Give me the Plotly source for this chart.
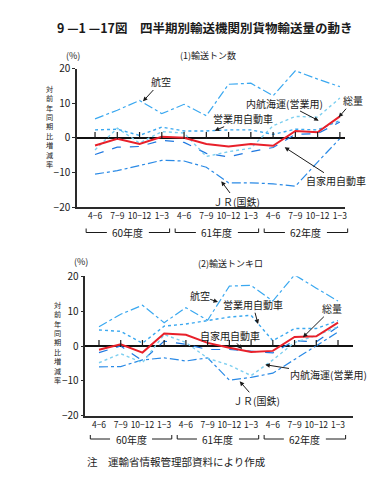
import plotly.graph_objects as go

W, H = 382, 477

# ---------------- data ----------------
quarters = ["4−6", "7−9", "10−12", "1−3"] * 3
fiscal_years = ["60年度", "61年度", "62年度"]
series_names = ["総量", "航空", "営業用自動車", "内航海運(営業用)", "自家用自動車", "ＪＲ(国鉄)"]

# (1) 輸送トン数  (対前年同期比増減率, %)
ton_total = [-2.2, -0.3, -1.8, 0.3, 0.0, -1.8, -2.5, -1.8, -2.3, 2.0, 1.6, 6.2]
ton_air = [5.5, 8.0, 10.8, 7.0, 9.7, 6.4, 15.5, 15.8, 12.2, 19.4, 17.0, 14.8]
ton_truck_com = [2.3, 2.5, 0.7, 3.1, 2.0, 2.0, 2.3, 2.3, 1.0, 2.5, 2.3, 5.0]
ton_coastal = [-3.5, 2.8, -1.5, 1.8, 1.4, -5.4, -4.0, -3.0, 3.5, 6.2, 6.0, 11.5]
ton_truck_priv = [-4.8, -2.7, -2.5, -0.7, -1.3, -4.5, -5.5, -4.0, -2.8, 1.0, 1.2, 4.6]
ton_jr = [-10.5, -9.5, -8.0, -6.5, -6.7, -8.5, -13.0, -13.0, -13.3, -14.0, -7.0, -0.2]

# (2) 輸送トンキロ
tkm_total = [-1.1, 0.5, -1.9, 3.6, 3.2, 0.9, -0.5, -1.7, -1.4, 2.6, 2.8, 6.7]
tkm_air = [5.5, 9.1, 11.7, 6.7, 11.0, 7.4, 17.2, 17.4, 12.9, 20.4, 16.6, 12.9]
tkm_truck_com = [4.6, 4.2, 0.8, 5.7, 6.3, 7.3, 8.3, 8.8, 1.5, 5.0, 5.0, 7.3]
tkm_coastal = [-4.8, -2.2, -4.8, 3.3, 1.0, -3.5, -5.5, -8.5, -4.0, 1.0, 3.0, 5.5]
tkm_truck_priv = [-1.9, 0.0, -4.2, 1.4, 0.5, -1.0, -1.0, -1.5, -2.0, 1.5, 1.2, 5.5]
tkm_jr = [-6.0, -5.9, -4.0, -3.4, -4.3, -3.4, -9.8, -9.0, -7.8, -3.8, 0.0, 4.0]

y_ticks = [-20, -10, 0, 10, 20]
y_ticktext = ["−20", "−10", "0", "10", "20"]

# ---------------- styles ----------------
styles = {
    "総量": dict(color="#e8202a", width=2.0, dash="solid"),
    "航空": dict(color="#3aa8f0", width=1.2, dash="dashdot"),
    "営業用自動車": dict(color="#3aa8f0", width=1.4, dash="dot"),
    "内航海運(営業用)": dict(color="#7ccff0", width=1.4, dash="dot"),
    "自家用自動車": dict(color="#1f78e0", width=1.2, dash="dash"),
    "ＪＲ(国鉄)": dict(color="#2a8ae6", width=1.2, dash="dashdot"),
}
FONT = "Noto Sans CJK JP"
INK = "#1a1a1a"

panels = [
    dict(x="x", y="y", xdom=(69, 337), ydom=(60.7, 199), xr=(-0.81, 11.23),
         data=[ton_total, ton_air, ton_truck_com, ton_coastal, ton_truck_priv, ton_jr]),
    dict(x="x2", y="y2", xdom=(77.3, 345), ydom=(268.3, 407.7), xr=(-0.63, 11.69),
         data=[tkm_total, tkm_air, tkm_truck_com, tkm_coastal, tkm_truck_priv, tkm_jr]),
]

fig = go.Figure()
idx = list(range(len(quarters)))

for p in panels:
    order = [5, 4, 3, 2, 1, 0]  # red total drawn last (on top)
    for k in order:
        name = series_names[k]
        st = styles[name]
        fig.add_trace(go.Scatter(
            x=idx, y=p["data"][k], xaxis=p["x"], yaxis=p["y"], mode="lines",
            line=dict(color=st["color"], width=st["width"], dash=st["dash"]),
            showlegend=False, hoverinfo="skip"))
    # small quarter marks on the zero line
    fig.add_trace(go.Scatter(
        x=idx, y=[0.7] * len(idx), xaxis=p["x"], yaxis=p["y"], mode="markers",
        marker=dict(symbol="line-ns", size=5, line=dict(width=1.2, color=INK)),
        showlegend=False, hoverinfo="skip"))

layout = dict(
    width=W, height=H,
    margin=dict(l=0, r=0, t=0, b=0, pad=0, autoexpand=False),
    paper_bgcolor="white", plot_bgcolor="white",
    font=dict(family=FONT, color=INK), showlegend=False,
)

for n, p in enumerate(panels):
    sfx = "" if n == 0 else "2"
    layout["xaxis" + sfx] = dict(
        domain=[p["xdom"][0] / W, p["xdom"][1] / W], range=list(p["xr"]),
        anchor=p["y"], showgrid=False, zeroline=False, showline=True,
        linecolor="#2a2a2a", linewidth=1.5, ticks="", tickvals=idx,
        ticktext=quarters, tickfont=dict(size=8.5, color=INK), tickangle=0,
        automargin=False)
    layout["yaxis" + sfx] = dict(
        domain=[1 - p["ydom"][1] / H, 1 - p["ydom"][0] / H], range=[-20, 20],
        anchor=p["x"], showgrid=False, zeroline=True, zerolinecolor="#111",
        zerolinewidth=1.5, showline=True, linecolor="#2a2a2a", linewidth=1.5,
        ticks="outside", ticklen=3, tickcolor="#2a2a2a", tickvals=y_ticks,
        ticktext=y_ticktext, tickfont=dict(size=10, color=INK), automargin=False)

fig.update_layout(**layout)

ann = []
shapes = []


def ann_text(x, y, text, size=10, **kw):
    ann.append(dict(x=x / W, y=1 - y / H, xref="paper", yref="paper", text=text,
                    showarrow=False, font=dict(size=size, family=FONT, color=INK),
                    xanchor=kw.get("xanchor", "center"), yanchor="middle",
                    borderpad=0))


def ann_arrow(tx, ty, hx, hy, text, size=10):
    ann.append(dict(x=hx / W, y=1 - hy / H, xref="paper", yref="paper", text=text,
                    showarrow=True, ax=tx - hx, ay=ty - hy, axref="pixel", ayref="pixel",
                    arrowhead=2, arrowsize=0.9, arrowwidth=1, arrowcolor=INK,
                    font=dict(size=size, family=FONT, color=INK), borderpad=0))


# title
ann_text(197, 20, "<b>9 —1 —17図　四半期別輸送機関別貨物輸送量の動き</b>", size=12.5)
# panel titles and units
ann_text(200, 48, "(1)輸送トン数", size=9)
ann_text(65, 48, "(%)", size=9)
ann_text(222, 255, "(2)輸送トンキロ", size=9)
ann_text(73, 254, "(%)", size=9)

# vertical y titles (one character per line)
ylabel = "対前年同期比増減率"
for (cx, cy) in [(41.7, 118.3), (49.3, 334.8)]:
    ann_text(cx, cy, "<br>".join(ylabel), size=7.2)

# series labels (panel 1)
ann_arrow(152.7, 74, 135, 93.3, "航空")
ann_arrow(276.7, 95, 310.7, 112.7, "内航海運(営業用)")
ann_arrow(345, 92.7, 330.7, 109.3, "総量")
ann_arrow(235, 110.7, 206.7, 122.7, "営業用自動車")
ann_arrow(328.3, 172.7, 276.7, 139.3, "自家用自動車")
ann_arrow(228, 193, 213.3, 173.3, "ＪＲ(国鉄)")
# series labels (panel 2)
ann_arrow(191.7, 287.7, 210, 294, "航空")
ann_arrow(245, 296.7, 250, 316, "営業用自動車")
ann_arrow(324, 300.7, 295, 329.3, "総量")
ann_arrow(221.7, 327.3, 234, 341, "自家用自動車")
ann_arrow(320, 366.7, 257.3, 356.7, "内航海運(営業用)")
ann_arrow(248.3, 392.3, 231.7, 373.3, "ＪＲ(国鉄)")

# fiscal-year brackets under the quarter labels
for p, yline in [(panels[0], 224.5), (panels[1], 431.0)]:
    x0p, x1p = p["xdom"]
    r0, r1 = p["xr"]
    per = (x1p - x0p) / (r1 - r0)

    def to_px(v):
        return x0p + (v - r0) * per

    for k, fy in enumerate(fiscal_years):
        s = 4 * k
        a, b = to_px(s - 0.4), to_px(s + 3.35)
        c = (a + b) / 2
        gap = 21
        for (u, v) in [(a, c - gap), (c + gap, b)]:
            shapes.append(dict(type="line", xref="paper", yref="paper",
                               x0=u / W, x1=v / W, y0=1 - yline / H, y1=1 - yline / H,
                               line=dict(color=INK, width=1)))
        for u in (a, b):
            shapes.append(dict(type="line", xref="paper", yref="paper",
                               x0=u / W, x1=u / W, y0=1 - yline / H, y1=1 - (yline - 4) / H,
                               line=dict(color=INK, width=1)))
        ann_text(c, yline, fy, size=10)

# footnote
ann_text(78, 453, "注　運輸省情報管理部資料により作成", size=10.5, xanchor="left")

fig.update_layout(annotations=ann, shapes=shapes)
fig.write_html("out.html")
